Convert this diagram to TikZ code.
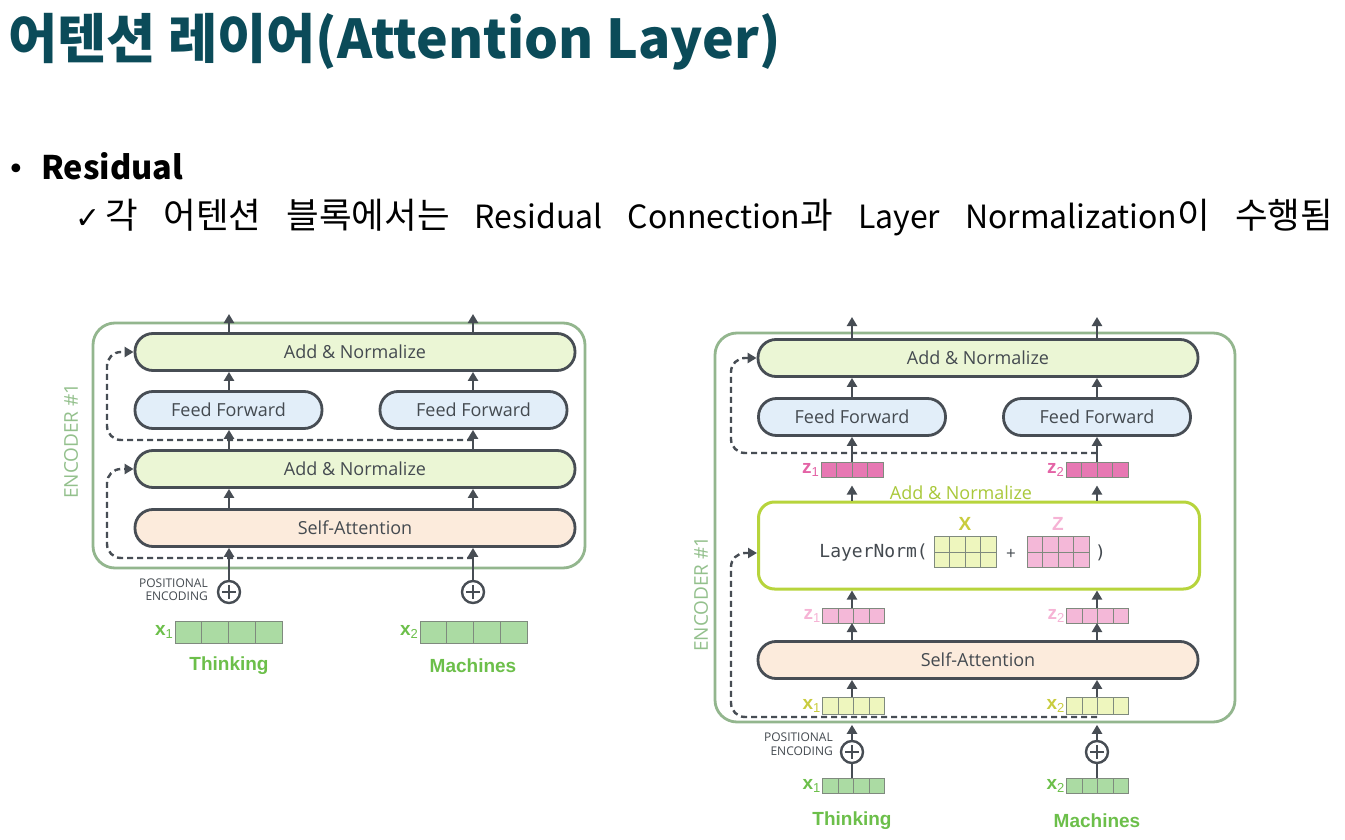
\documentclass[tikz,border=0pt]{standalone}
\usepackage{fontspec}
\usetikzlibrary{arrows.meta,calc}
\setmainfont{Open Sans}
\newfontfamily\kr{Noto Sans CJK KR}
\newfontfamily\dia{Open Sans}
\newfontfamily\arial{Liberation Sans}
\newfontfamily\mono{DejaVu Sans Mono}
\newfontfamily\sym{DejaVu Sans}

\definecolor{titleteal}{HTML}{0B4B59}
\definecolor{boxline}{HTML}{474D54}
\definecolor{addfill}{HTML}{EBF6D5}
\definecolor{fffill}{HTML}{E2EEF9}
\definecolor{safill}{HTML}{FCEBDC}
\definecolor{outergreen}{HTML}{93B68E}
\definecolor{enclabel}{HTML}{93C08C}
\definecolor{vecgreen}{HTML}{ABDBA3}
\definecolor{txtgreen}{HTML}{6CBF4A}
\definecolor{zdark}{HTML}{E778B3}
\definecolor{zdarktxt}{HTML}{E463A6}
\definecolor{zlight}{HTML}{F4B8D8}
\definecolor{zlighttxt}{HTML}{F6B3D5}
\definecolor{xyellow}{HTML}{EEF6BE}
\definecolor{xyellowtxt}{HTML}{C9CC3E}
\definecolor{lnline}{HTML}{B7D43C}
\definecolor{lntxt}{HTML}{A9C83A}
\definecolor{celledge}{HTML}{7F8A7E}
\definecolor{txtgray}{HTML}{444A50}

\tikzset{
  x=1pt, y=-1pt,
  box/.style={draw=boxline, line width=2.8pt, rounded corners=18pt,
    minimum height=37pt, inner sep=0pt, text=txtgray,
    font=\dia\fontsize{18}{18}\selectfont},
  addbox/.style={box, fill=addfill, minimum width=440pt},
  ffbox/.style={box, fill=fffill, minimum width=187pt},
  sabox/.style={box, fill=safill, minimum width=440pt},
  outerbox/.style={draw=outergreen, line width=2.8pt, rounded corners=22pt, inner sep=0pt},
  enclab/.style={rotate=90, text=enclabel, font=\dia\fontsize{19}{19}\selectfont},
  arr/.style={draw=boxline, line width=2.4pt, -{Triangle[length=9pt,width=10pt]}},
  plainline/.style={draw=boxline, line width=2.4pt},
  resid/.style={draw=boxline, line width=2.4pt, dash pattern=on 6pt off 4pt,
    rounded corners=14pt, -{Triangle[length=9pt,width=10pt]}},
  cellline/.style={draw=celledge, line width=0.8pt},
  vec/.style={draw=celledge, line width=0.9pt, inner sep=0pt, outer sep=0pt,
    path picture={\foreach \k in {1,2,3}{
      \draw[cellline] ($(path picture bounding box.south west)!\k/4!(path picture bounding box.south east)$)
        -- ($(path picture bounding box.north west)!\k/4!(path picture bounding box.north east)$);}}},
  mat/.style={vec, path picture={\foreach \k in {1,2,3}{
      \draw[cellline] ($(path picture bounding box.south west)!\k/4!(path picture bounding box.south east)$)
        -- ($(path picture bounding box.north west)!\k/4!(path picture bounding box.north east)$);}
      \draw[cellline] (path picture bounding box.west) -- (path picture bounding box.east);}},
  veclab/.style={anchor=east, inner sep=2pt, font=\arial\bfseries\fontsize{19}{19}\selectfont},
  wordlab/.style={text=txtgreen, font=\arial\bfseries\fontsize{19}{19}\selectfont},
  pluscirc/.style={circle, draw=boxline, line width=2.4pt, minimum size=22pt, inner sep=0pt,
    path picture={\draw[boxline, line width=2.2pt]
      ($(path picture bounding box.west)+(4pt,0)$) -- ($(path picture bounding box.east)+(-4pt,0)$)
      ($(path picture bounding box.north)+(0,-4pt)$) -- ($(path picture bounding box.south)+(0,4pt)$);}},
  poslab/.style={anchor=east, align=right, text=txtgray, inner sep=0pt,
    font=\dia\fontsize{12}{13.5}\selectfont},
}

\newcommand{\xsub}[2]{#1\raisebox{-3pt}{\fontsize{13}{13}\selectfont\mdseries #2}}
% Hangul set a little larger than the Latin words around it
\newcommand{\hg}[1]{{\fontsize{35.5}{35.5}\selectfont #1}}

\begin{document}
\begin{tikzpicture}
\useasboundingbox (0,0) rectangle (1345,840);
\fill[white] (0,0) rectangle (1345,840);

% ---------- heading and bullets ----------
\node[anchor=west, inner sep=0pt, text=titleteal,
  font=\kr\bfseries\fontsize{53.5}{53.5}\selectfont] (title) at (8,42) {어텐션 레이어(Attention Layer)};
\node[anchor=base west, inner sep=0pt, font=\sym\fontsize{30}{30}\selectfont] (bullet) at (7,180) {•};
\node[anchor=base west, inner sep=0pt, font=\kr\bfseries\fontsize{32.5}{32.5}\selectfont] (resid) at (41,179) {Residual};
\node[anchor=base west, inner sep=0pt, font=\kr\fontsize{32}{32}\selectfont] (detail) at (75,229)
  {\makebox[1258pt][s]{{\sym\fontsize{30}{30}\selectfont ✓}\,\hg{각} \hg{어텐션} \hg{블록에서는} Residual Connection\hg{과} Layer Normalization\hg{이} \hg{수행됨}}};

% ---------- left encoder ----------
\node[outerbox, minimum width=492pt, minimum height=245pt] (LENC) at (339,445.5) {};
\node[enclab] (LENCL) at (71,441) {ENCODER \#1};

\node[addbox] (LAN2) at (355,352) {Add \& Normalize};
\node[ffbox]  (LFF1) at (228.5,410) {Feed Forward};
\node[ffbox]  (LFF2) at (473.5,410) {Feed Forward};
\node[addbox] (LAN1) at (355,469) {Add \& Normalize};
\node[sabox]  (LSA)  at (355,528) {Self-Attention};

\node[pluscirc] (LP1) at (229,592) {};
\node[pluscirc] (LP2) at (473,592) {};
\node[poslab] (LPE) at (208,589.5) {POSITIONAL\\ENCODING};

\node[vec, fill=vecgreen, minimum width=107pt, minimum height=22pt] (LX1) at (228.5,632) {};
\node[vec, fill=vecgreen, minimum width=107pt, minimum height=22pt] (LX2) at (473.5,632) {};
\node[veclab, text=txtgreen] (LX1L) at (LX1.west) {\xsub{x}{1}};
\node[veclab, text=txtgreen] (LX2L) at (LX2.west) {\xsub{x}{2}};
\node[wordlab] (LW1) at (229,665.5) {Thinking};
\node[wordlab] (LW2) at (473,665.5) {Machines};

\coordinate (LO1) at (229,314);
\coordinate (LO2) at (473,314);
\coordinate (LR1) at (473,558);
\coordinate (LR2) at (473,440);

\draw[resid] (LR1) -- (107,558) -- (107,469) -- (LAN1.west);
\draw[resid] (LR2) -- (107,440) -- (107,352) -- (LAN2.west);

\foreach \p/\f in {LP1/LFF1, LP2/LFF2}{
  \draw[arr] (\p.north) -- (LSA.south -| \p);
  \draw[arr] (LSA.north -| \p) -- (LAN1.south -| \p);
  \draw[arr] (LAN1.north -| \p) -- (\f.south -| \p);
  \draw[arr] (\f.north -| \p) -- (LAN2.south -| \p);
}
\draw[arr] (LAN2.north -| LP1) -- (LO1);
\draw[arr] (LAN2.north -| LP2) -- (LO2);

% ---------- right encoder ----------
\node[outerbox, minimum width=520pt, minimum height=389pt] (RENC) at (975,527.5) {};
\node[enclab] (RENCL) at (701,594) {ENCODER \#1};

\node[addbox] (RAN2) at (978,358) {Add \& Normalize};
\node[ffbox]  (RFF1) at (852,417) {Feed Forward};
\node[ffbox]  (RFF2) at (1097,417) {Feed Forward};

\node[vec, fill=zdark, minimum width=62pt, minimum height=15pt] (RZ1) at (852,469.5) {};
\node[vec, fill=zdark, minimum width=62pt, minimum height=15pt] (RZ2) at (1097,469.5) {};
\node[veclab, text=zdarktxt] (RZ1L) at (RZ1.west) {\xsub{z}{1}};
\node[veclab, text=zdarktxt] (RZ2L) at (RZ2.west) {\xsub{z}{2}};

\node[text=lntxt, font=\dia\fontsize{18}{18}\selectfont, inner sep=0pt] (RANL) at (961,493) {Add \& Normalize};

\node[draw=lnline, line width=3pt, rounded corners=16pt, fill=white,
  minimum width=441pt, minimum height=87pt] (LN) at (979,545.5) {};
\node[mat, fill=xyellow, minimum width=62pt, minimum height=31pt] (MX) at (965,552) {};
\node[mat, fill=zlight, minimum width=62pt, minimum height=31pt] (MZ) at (1058,552) {};
\node[anchor=east, inner sep=0pt, text=txtgray, font=\mono\fontsize{18}{18}\selectfont]
  (LNT) at ($(MX.west)+(-6,1)$) {LayerNorm(};
\node[text=txtgray, font=\dia\fontsize{17}{17}\selectfont, inner sep=0pt] (PLUS) at (1011,554) {+};
\node[anchor=west, text=txtgray, font=\mono\fontsize{18}{18}\selectfont, inner sep=0pt]
  (CLP) at ($(MZ.east)+(6,1)$) {)};
\node[text=xyellowtxt, font=\arial\bfseries\fontsize{19}{19}\selectfont, inner sep=0pt] (XL) at (965,524) {X};
\node[text=zlighttxt, font=\arial\bfseries\fontsize{19}{19}\selectfont, inner sep=0pt] (ZL) at (1058,524) {Z};

\node[vec, fill=zlight, minimum width=62pt, minimum height=15pt] (RZa) at (853.5,615.5) {};
\node[vec, fill=zlight, minimum width=62pt, minimum height=15pt] (RZb) at (1097.5,615.5) {};
\node[veclab, text=zlighttxt] (RZaL) at (RZa.west) {\xsub{z}{1}};
\node[veclab, text=zlighttxt] (RZbL) at (RZb.west) {\xsub{z}{2}};

\node[sabox] (RSA) at (978,660) {Self-Attention};

\node[vec, fill=xyellow, minimum width=62pt, minimum height=17pt] (RX1) at (853.5,705.5) {};
\node[vec, fill=xyellow, minimum width=62pt, minimum height=17pt] (RX2) at (1097.5,705.5) {};
\node[veclab, text=xyellowtxt] (RX1L) at (RX1.west) {\xsub{x}{1}};
\node[veclab, text=xyellowtxt] (RX2L) at (RX2.west) {\xsub{x}{2}};

\node[pluscirc] (RP1) at (852,752) {};
\node[pluscirc] (RP2) at (1097,752) {};
\node[poslab] (RPE) at (833,744) {POSITIONAL\\ENCODING};

\node[vec, fill=vecgreen, minimum width=62pt, minimum height=15pt] (RG1) at (853.5,785.5) {};
\node[vec, fill=vecgreen, minimum width=62pt, minimum height=15pt] (RG2) at (1097.5,785.5) {};
\node[veclab, text=txtgreen] (RG1L) at (RG1.west) {\xsub{x}{1}};
\node[veclab, text=txtgreen] (RG2L) at (RG2.west) {\xsub{x}{2}};
\node[wordlab] (RW1) at (852,820.5) {Thinking};
\node[wordlab] (RW2) at (1097,820.5) {Machines};

\coordinate (RO1) at (852,317);
\coordinate (RO2) at (1097,317);
\coordinate (RR1) at (1097,717);
\coordinate (RR2) at (1097,453);

\draw[resid] (RR1) -- (731,717) -- (731,553) -- (LN.west |- LNT);
\draw[resid] (RR2) -- (731,453) -- (731,358) -- (RAN2.west);

\foreach \p/\xv/\za/\zb/\f in {RP1/RX1/RZa/RZ1/RFF1, RP2/RX2/RZb/RZ2/RFF2}{
  \draw[arr] (\p.north) -- ++(0,-15);
  \draw[arr] (\xv.north -| \p) -- (RSA.south -| \p);
  \draw[arr] (RSA.north -| \p) -- (\za.south -| \p);
  \draw[arr] (\za.north -| \p) -- (LN.south -| \p);
  \draw[arr] (LN.north -| \p) -- ++(0,-15);
  \draw[arr] (\zb.north -| \p) -- (\f.south -| \p);
  \draw[arr] (\f.north -| \p) -- (RAN2.south -| \p);
}
\draw[plainline] (RG1.north -| RP1) -- (RP1.south);
\draw[plainline] (RG2.north -| RP2) -- (RP2.south);
\draw[arr] (RAN2.north -| RP1) -- (RO1);
\draw[arr] (RAN2.north -| RP2) -- (RO2);
\end{tikzpicture}
\end{document}
